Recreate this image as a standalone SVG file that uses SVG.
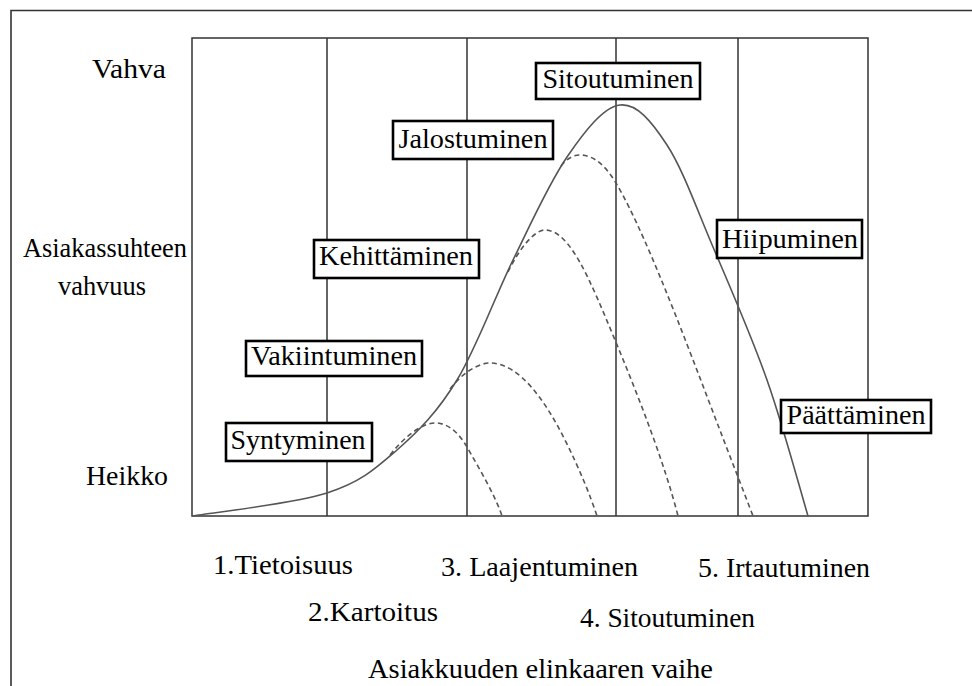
<svg xmlns="http://www.w3.org/2000/svg" width="972" height="686" viewBox="0 0 972 686">
  <style>
    .frame { fill: none; stroke: #333; stroke-width: 1.6; }
    .grid { stroke: #333; stroke-width: 1.5; fill: none; }
    .main { fill: none; stroke: #555; stroke-width: 1.6; }
    .branch { fill: none; stroke: #555; stroke-width: 1.6; stroke-dasharray: 5 3.5; }
    .box { fill: #fff; stroke: #000; stroke-width: 2.6; }
    .c { text-anchor: middle; }
  </style>

  <rect width="972" height="686" fill="#fff"/>

  <!-- outer frame: top and left edges only -->
  <path class="frame" d="M11,686 V10.5 H972"/>

  <!-- chart area and phase dividers -->
  <g id="grid">
    <rect class="grid" x="192" y="38" width="676" height="478"/>
    <line class="grid" x1="327" y1="38" x2="327" y2="516"/>
    <line class="grid" x1="467" y1="38" x2="467" y2="516"/>
    <line class="grid" x1="616" y1="38" x2="616" y2="516"/>
    <line class="grid" x1="738" y1="38" x2="738" y2="516"/>
  </g>

  <!-- relationship strength curves -->
  <g id="connectors">
    <path class="main" d="M192,516 C214.5,512.2 292.8,504 327,493 C361.2,482 375.3,468.8 397,450 C418.7,431.2 437.7,411.7 457,380 C476.3,348.3 494.7,297.2 513,260 C531.3,222.8 549.2,182.8 567,157 C584.8,131.2 603.3,107 620,105 C636.7,103 651.5,121.3 667,145 C682.5,168.7 696.3,207.8 713,247 C729.7,286.2 751.2,335.2 767,380 C782.8,424.8 801.2,493.3 808,516"/>
    <path class="branch" d="M390,455 C405,436 423,422 437,423 C450,424 460,435 467,447 C480,470 495,495 502,516"/>
    <path class="branch" d="M450,389 C463,372 480,362 492,363 C520,365 545,400 565,440 C580,470 590,495 597,516"/>
    <path class="branch" d="M508,272 C520,247 535,230 545,230 C570,230 590,280 615,340 C640,400 665,465 678,516"/>
    <path class="branch" d="M561,166 C567,158 574,155 580,155 C595,155 607,168 616,183 C650,240 700,380 738,477 C743,490 748,503 753,516"/>
  </g>

  <g font-family="Liberation Serif" font-size="28" fill="#000">
    <!-- stage boxes -->
    <g id="node-sitoutuminen">
      <rect class="box" x="536" y="63" width="164" height="36"/>
      <text x="618" y="88" class="c" textLength="151" lengthAdjust="spacingAndGlyphs">Sitoutuminen</text>
    </g>
    <g id="node-jalostuminen">
      <rect class="box" x="393" y="121" width="160" height="38"/>
      <text x="473" y="148" class="c" textLength="149" lengthAdjust="spacingAndGlyphs">Jalostuminen</text>
    </g>
    <g id="node-kehittaminen">
      <rect class="box" x="314" y="240" width="165" height="38"/>
      <text x="396" y="265" class="c" textLength="154" lengthAdjust="spacingAndGlyphs">Kehittäminen</text>
    </g>
    <g id="node-vakiintuminen">
      <rect class="box" x="246" y="341" width="176" height="35"/>
      <text x="334" y="365" class="c" textLength="166" lengthAdjust="spacingAndGlyphs">Vakiintuminen</text>
    </g>
    <g id="node-syntyminen">
      <rect class="box" x="226" y="423" width="146" height="38"/>
      <text x="298" y="449" class="c" textLength="135" lengthAdjust="spacingAndGlyphs">Syntyminen</text>
    </g>
    <g id="node-hiipuminen">
      <rect class="box" x="717" y="220" width="145" height="38"/>
      <text x="790" y="248" class="c" textLength="136" lengthAdjust="spacingAndGlyphs">Hiipuminen</text>
    </g>
    <g id="node-paattaminen">
      <rect class="box" x="781" y="400" width="150" height="33"/>
      <text x="856" y="424" class="c" textLength="139" lengthAdjust="spacingAndGlyphs">Päättäminen</text>
    </g>

    <!-- vertical axis labels -->
    <g id="y-axis">
      <text x="92" y="78" textLength="74" lengthAdjust="spacingAndGlyphs">Vahva</text>
      <text x="23" y="257" textLength="164" lengthAdjust="spacingAndGlyphs">Asiakassuhteen</text>
      <text x="58" y="295" textLength="88" lengthAdjust="spacingAndGlyphs">vahvuus</text>
      <text x="86" y="485" textLength="82" lengthAdjust="spacingAndGlyphs">Heikko</text>
    </g>

    <!-- horizontal axis: lifecycle phases -->
    <g id="x-axis">
      <text x="213" y="574" textLength="140" lengthAdjust="spacingAndGlyphs">1.Tietoisuus</text>
      <text x="308" y="621" textLength="130" lengthAdjust="spacingAndGlyphs">2.Kartoitus</text>
      <text x="441" y="576" textLength="197" lengthAdjust="spacingAndGlyphs">3. Laajentuminen</text>
      <text x="580" y="627" textLength="175" lengthAdjust="spacingAndGlyphs">4. Sitoutuminen</text>
      <text x="698" y="577" textLength="172" lengthAdjust="spacingAndGlyphs">5. Irtautuminen</text>
      <text x="368" y="678" textLength="345" lengthAdjust="spacingAndGlyphs">Asiakkuuden elinkaaren vaihe</text>
    </g>
  </g>
</svg>
